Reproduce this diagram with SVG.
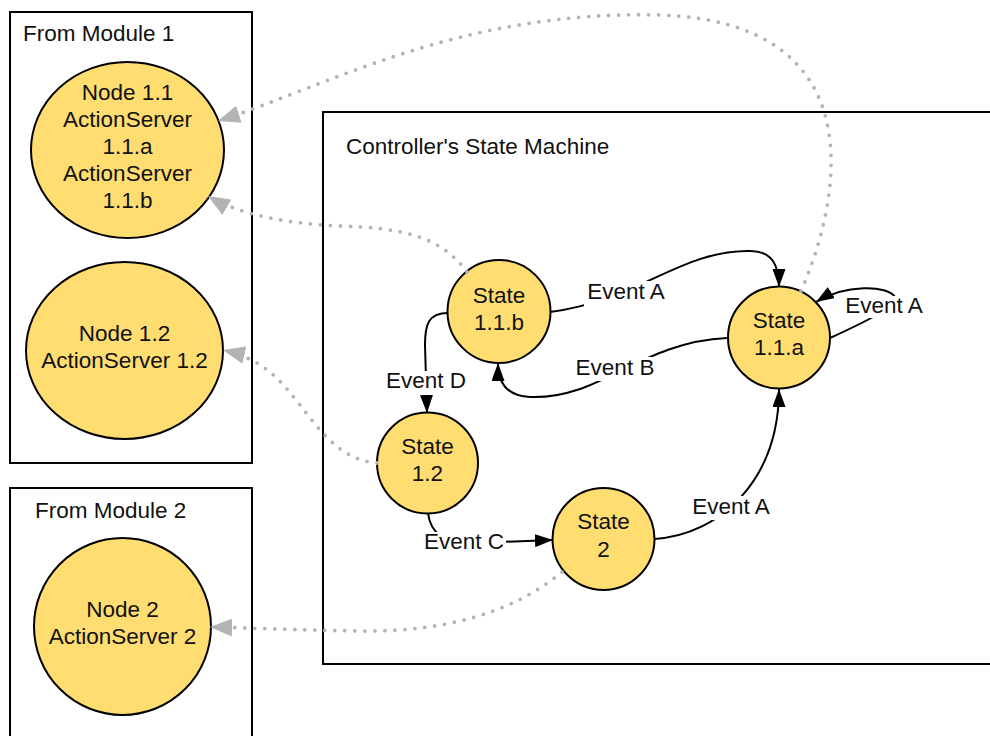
<svg xmlns="http://www.w3.org/2000/svg" width="990" height="736" viewBox="0 0 990 736">
  <style>
    text { font-family: "Liberation Sans", Arial, sans-serif; font-size: 22.5px; fill: #111; }
    .box { fill: none; stroke: #000; stroke-width: 2; }
    .node { fill: #ffdd71; stroke: #000; stroke-width: 2; }
    .mid { text-anchor: middle; }
    .edge { fill: none; stroke: #000; stroke-width: 2; }
    .link { fill: none; stroke: #b3b3b3; stroke-width: 3.8; stroke-linecap: round; stroke-dasharray: 0 10; }
    .lblbg { fill: #fff; }
  </style>
  <defs>
    <marker id="arrow" markerUnits="userSpaceOnUse" viewBox="0 0 18 13" refX="18" refY="6.5" markerWidth="18" markerHeight="13" orient="auto">
      <path d="M0,0 L18,6.5 L0,13 z" fill="#000"/>
    </marker>
    <marker id="arrowGray" markerUnits="userSpaceOnUse" viewBox="0 0 22 18" refX="22" refY="9" markerWidth="22" markerHeight="18" orient="auto">
      <path d="M0,0 L22,9 L0,18 z" fill="#b3b3b3"/>
    </marker>
  </defs>

  <rect width="990" height="736" fill="#fff"/>

  <!-- containers -->
  <g id="module1">
    <rect class="box" x="10" y="12" width="242" height="451"/>
    <text x="23" y="41">From Module 1</text>
  </g>
  <g id="module2">
    <rect class="box" x="10" y="488" width="242" height="260"/>
    <text x="35" y="518">From Module 2</text>
  </g>
  <g id="controller">
    <rect class="box" x="323" y="112" width="680" height="552"/>
    <text x="346" y="154">Controller's State Machine</text>
  </g>

  <!-- nodes -->
  <g id="node-1-1">
    <ellipse class="node" cx="127.5" cy="150" rx="96.5" ry="88"/>
    <text class="mid" x="127.5" y="100">Node 1.1</text>
    <text class="mid" x="127.5" y="127">ActionServer</text>
    <text class="mid" x="127.5" y="154">1.1.a</text>
    <text class="mid" x="127.5" y="181">ActionServer</text>
    <text class="mid" x="127.5" y="208">1.1.b</text>
  </g>
  <g id="node-1-2">
    <ellipse class="node" cx="124.5" cy="350.5" rx="98.5" ry="88.5"/>
    <text class="mid" x="124.5" y="341">Node 1.2</text>
    <text class="mid" x="124.5" y="368">ActionServer 1.2</text>
  </g>
  <g id="node-2">
    <circle class="node" cx="122.5" cy="626.5" r="88.5"/>
    <text class="mid" x="122.5" y="617">Node 2</text>
    <text class="mid" x="122.5" y="644">ActionServer 2</text>
  </g>
  <g id="state-1-1-b">
    <circle class="node" cx="499" cy="311.5" r="51.5"/>
    <text class="mid" x="499" y="303">State</text>
    <text class="mid" x="499" y="330">1.1.b</text>
  </g>
  <g id="state-1-1-a">
    <circle class="node" cx="779" cy="337.5" r="51"/>
    <text class="mid" x="779" y="328">State</text>
    <text class="mid" x="779" y="355">1.1.a</text>
  </g>
  <g id="state-1-2">
    <circle class="node" cx="427.5" cy="463" r="50.5"/>
    <text class="mid" x="427.5" y="454">State</text>
    <text class="mid" x="427.5" y="481">1.2</text>
  </g>
  <g id="state-2">
    <circle class="node" cx="603.5" cy="539" r="51"/>
    <text class="mid" x="603.5" y="529">State</text>
    <text class="mid" x="603.5" y="557">2</text>
  </g>

  <!-- connectors -->
  <g id="connectors">
    <!-- action server links -->
    <path class="link" marker-end="url(#arrowGray)" d="M801,291 C845,190 870,22 660,15 C460,10 330,85 218,121"/>
    <path class="link" marker-end="url(#arrowGray)" d="M467,272 C440,235 400,228 340,226 C290,224 240,215 208,196"/>
    <path class="link" marker-end="url(#arrowGray)" d="M377,463 C340,460 320,430 300,405 C280,380 265,360 223,350"/>
    <path class="link" marker-end="url(#arrowGray)" d="M562,572 C510,615 440,632 360,631 C300,630 250,628 210,627"/>

    <!-- state transitions -->
    <path class="edge" marker-end="url(#arrow)" d="M550,312 C640,300 680,250 750,251 C772,251 779,265 779,287"/>
    <path class="edge" marker-end="url(#arrow)" d="M727,338 C640,342 600,400 530,397 C505,396 498,380 498,363"/>
    <path class="edge" marker-end="url(#arrow)" d="M830,338 C865,322 900,305 895,297 C888,285 845,284 816,302"/>
    <path class="edge" marker-end="url(#arrow)" d="M448,313 C428,313 425,325 425,345 L427,413"/>
    <path class="edge" marker-end="url(#arrow)" d="M428,513 C430,530 440,543 470,543 L553,540"/>
    <path class="edge" marker-end="url(#arrow)" d="M654,539 C720,535 779,480 779,389"/>

    <!-- transition labels -->
    <rect class="lblbg" x="584" y="281" width="84" height="28"/>
    <text class="mid" x="626" y="299">Event A</text>
    <rect class="lblbg" x="574" y="357" width="82" height="24"/>
    <text class="mid" x="615" y="375">Event B</text>
    <rect class="lblbg" x="842" y="296" width="84" height="22"/>
    <text class="mid" x="884" y="313">Event A</text>
    <rect class="lblbg" x="384" y="371" width="84" height="24"/>
    <text class="mid" x="426" y="388">Event D</text>
    <rect class="lblbg" x="422" y="532" width="84" height="24"/>
    <text class="mid" x="464" y="549">Event C</text>
    <rect class="lblbg" x="689" y="496" width="84" height="24"/>
    <text class="mid" x="731" y="514">Event A</text>
  </g>
</svg>
